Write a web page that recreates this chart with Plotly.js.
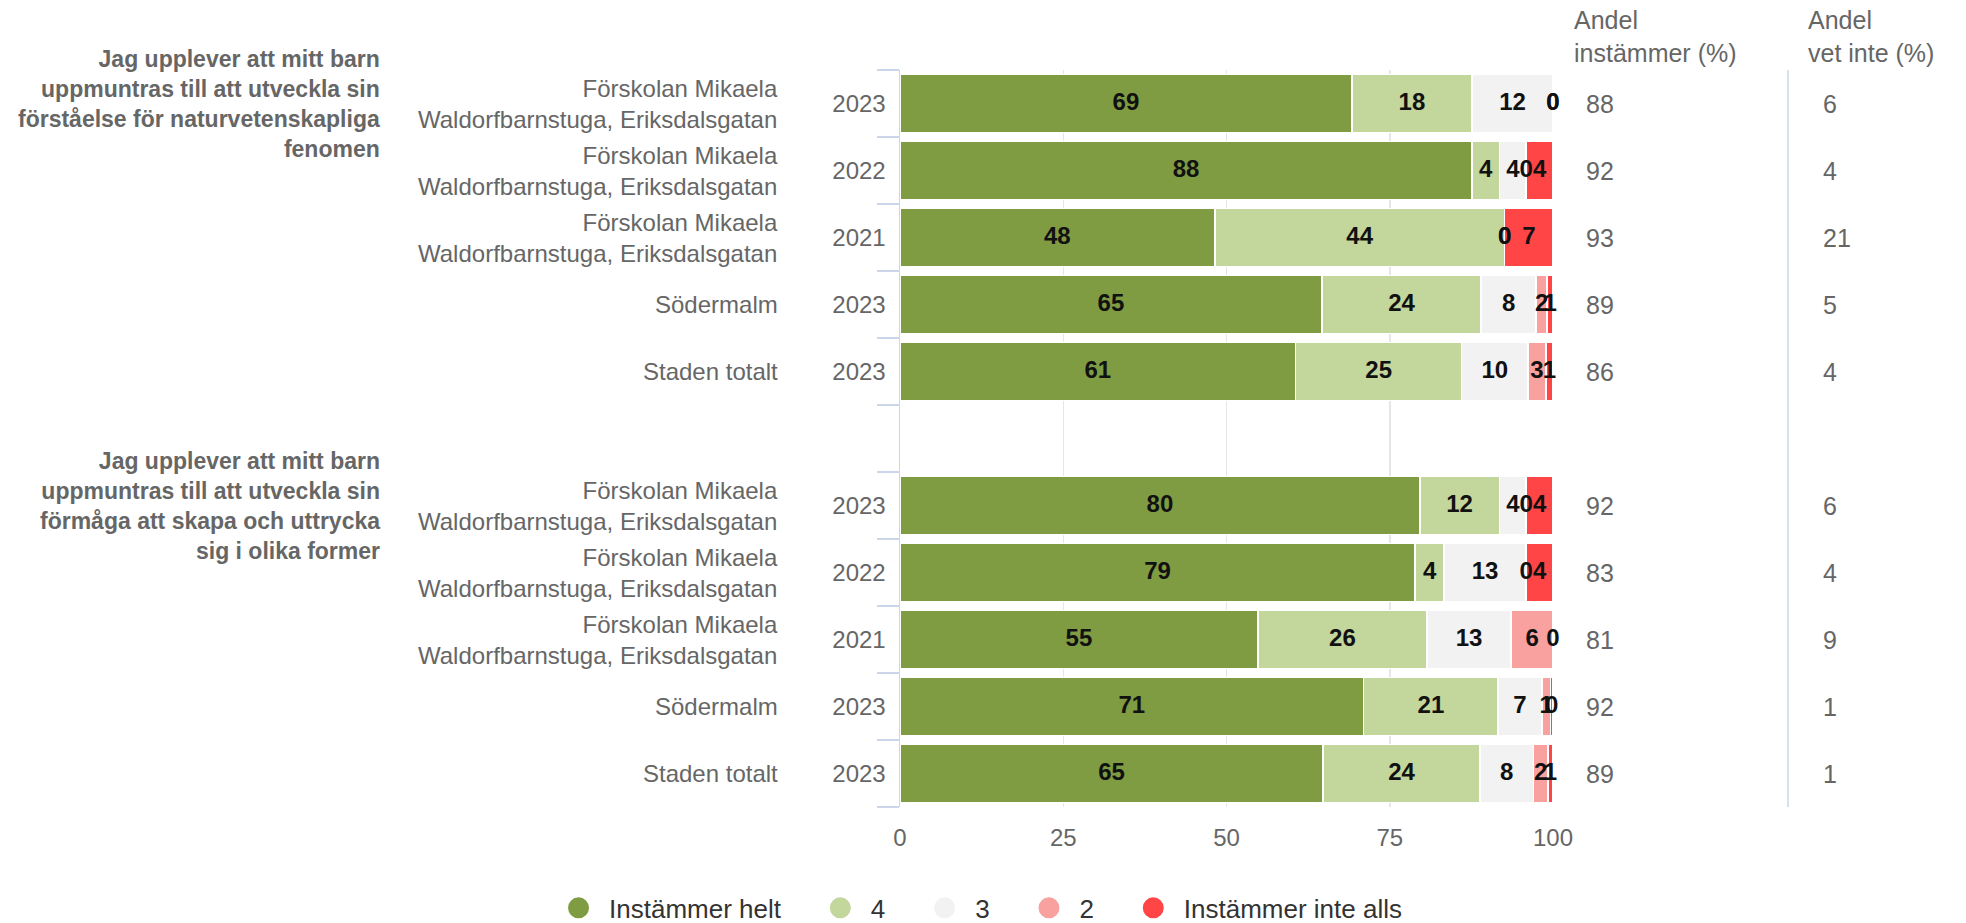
<!DOCTYPE html>
<html>
<head>
<meta charset="utf-8">
<script src="https://cdn.plot.ly/plotly-3.0.1.min.js"></script>
<style>html,body{margin:0;padding:0;background:#fff;}#chart{width:1966px;height:923px;}</style>
</head>
<body>
<div id="chart"></div>
<script>
// ---------- DATA ----------
const rowIds = ['q1r1','q1r2','q1r3','q1r4','q1r5','gap','q2r1','q2r2','q2r3','q2r4','q2r5'];
const rowUnits = [
  'Förskolan Mikaela<br>Waldorfbarnstuga, Eriksdalsgatan',
  'Förskolan Mikaela<br>Waldorfbarnstuga, Eriksdalsgatan',
  'Förskolan Mikaela<br>Waldorfbarnstuga, Eriksdalsgatan',
  'Södermalm',
  'Staden totalt',
  '',
  'Förskolan Mikaela<br>Waldorfbarnstuga, Eriksdalsgatan',
  'Förskolan Mikaela<br>Waldorfbarnstuga, Eriksdalsgatan',
  'Förskolan Mikaela<br>Waldorfbarnstuga, Eriksdalsgatan',
  'Södermalm',
  'Staden totalt'
];
const rowYears = ['2023','2022','2021','2023','2023','','2023','2022','2021','2023','2023'];
const questions = [
  'Jag upplever att mitt barn<br>uppmuntras till att utveckla sin<br>förståelse för naturvetenskapliga<br>fenomen',
  'Jag upplever att mitt barn<br>uppmuntras till att utveckla sin<br>förmåga att skapa och uttrycka<br>sig i olika former'
];
const questionRows = ['q1r1','q2r1'];

const seriesNames = ['Instämmer helt','4','3','2','Instämmer inte alls'];
const instammerHelt = [69.2, 87.6, 48.2, 64.6, 60.6, null, 79.6, 78.9, 54.8, 71.0, 64.8];
const value4        = [18.4,  4.2, 44.4, 24.4, 25.4, null, 12.2,  4.4, 25.9, 20.6, 24.0];
const value3        = [12.4,  4.1,  0.0,  8.4, 10.2, null,  4.1, 12.6, 12.9,  6.7,  8.2];
const value2        = [ 0.0,  0.0,  0.0,  1.7,  2.7, null,  0.0,  0.0,  6.4,  1.3,  2.2];
const instammerInte = [ 0.0,  4.1,  7.4,  0.9,  1.1, null,  4.1,  4.1,  0.0,  0.4,  0.8];

const andelInstammer = [88, 92, 93, 89, 86, null, 92, 83, 81, 92, 89];
const andelVetInte   = [ 6,  4, 21,  5,  4, null,  6,  4,  9,  1,  1];

const xTicks = [0, 25, 50, 75, 100];
const headerInstammer = 'Andel<br>instämmer (%)';
const headerVetInte = 'Andel<br>vet inte (%)';

// ---------- STYLE ----------
const colors = ['#7f9c42', '#c3d69b', '#f2f2f2', '#f9a19f', '#ff4545'];
const FONT = '"Liberation Sans", Arial, Helvetica, sans-serif';
const seriesValues = [instammerHelt, value4, value3, value2, instammerInte];
const LEGEND_PAD = '\u00a0\u00a0\u00a0\u200a'; // spacing between legend entries

const traces = [];
// bars
seriesValues.forEach((vals, k) => {
  traces.push({
    type: 'bar', orientation: 'h', x: vals, y: rowIds,
    marker: {color: colors[k], line: {color: '#ffffff', width: 1.5}},
    showlegend: false, hoverinfo: 'skip'
  });
});
// data labels (centered in each stacked segment)
const cum = rowIds.map(() => 0);
seriesValues.forEach((vals, k) => {
  const xs = [], ys = [], ts = [];
  vals.forEach((v, i) => {
    if (v === null) return;
    xs.push(cum[i] + v / 2);
    ys.push(rowIds[i]);
    ts.push(String(Math.round(v)));
    cum[i] += v;
  });
  traces.push({
    type: 'scatter', mode: 'text', x: xs, y: ys, text: ts,
    textposition: 'middle center',
    textfont: {family: FONT, size: 24, color: '#111111', weight: 700},
    showlegend: false, hoverinfo: 'skip', cliponaxis: false
  });
});
// legend entries (circle symbols)
seriesNames.forEach((name, k) => {
  traces.push({
    type: 'scatter', mode: 'markers', x: [null], y: [null],
    name: name + (k < seriesNames.length - 1 ? LEGEND_PAD : ''),
    marker: {symbol: 'circle', size: 22, color: colors[k], line: {color: colors[k], width: 6}},
    showlegend: true, hoverinfo: 'skip'
  });
});

const annotations = [];
rowIds.forEach((id, i) => {
  if (rowUnits[i]) {
    annotations.push({xref: 'paper', yref: 'y', x: -0.1838, y: id, text: rowUnits[i],
      showarrow: false, xanchor: 'right', align: 'right', yanchor: 'middle',
      font: {family: FONT, size: 24, color: '#666666'}});
  }
  if (andelInstammer[i] !== null) {
    annotations.push({xref: 'paper', yref: 'y', x: 1.0475, y: id, text: String(andelInstammer[i]),
      showarrow: false, xanchor: 'left', align: 'left',
      font: {family: FONT, size: 25, color: '#666666'}});
  }
  if (andelVetInte[i] !== null) {
    annotations.push({xref: 'paper', yref: 'y', x: 1.4104, y: id, text: String(andelVetInte[i]),
      showarrow: false, xanchor: 'left', align: 'left',
      font: {family: FONT, size: 25, color: '#666666'}});
  }
});
questions.forEach((q, j) => {
  annotations.push({xref: 'paper', yref: 'y', x: -0.7933, y: questionRows[j], text: q,
    showarrow: false, xanchor: 'right', align: 'right', yanchor: 'middle',
    font: {family: FONT, size: 23, color: '#666666', weight: 700}});
});
annotations.push({xref: 'paper', yref: 'paper', x: 1.029, y: 1.046, text: headerInstammer,
  showarrow: false, xanchor: 'left', align: 'left', yanchor: 'middle',
  font: {family: FONT, size: 25, color: '#666666'}});
annotations.push({xref: 'paper', yref: 'paper', x: 1.3874, y: 1.046, text: headerVetInte,
  showarrow: false, xanchor: 'left', align: 'left', yanchor: 'middle',
  font: {family: FONT, size: 25, color: '#666666'}});

const layout = {
  width: 1966, height: 923,
  margin: {l: 900, r: 413, t: 70, b: 116, pad: 0, autoexpand: false},
  paper_bgcolor: '#ffffff', plot_bgcolor: '#ffffff',
  barmode: 'stack', bargap: 0.14,
  font: {family: FONT, color: '#666666'},
  showlegend: true,
  legend: {orientation: 'h', x: -0.539, xanchor: 'left',
    y: -0.137, yanchor: 'middle',
    font: {family: FONT, size: 26, color: '#333333'}, itemwidth: 51, traceorder: 'normal'},
  xaxis: {range: [0, 100], tickmode: 'array', tickvals: xTicks, ticktext: xTicks.map(String),
    showgrid: true, gridcolor: '#e6e6e6', gridwidth: 1.5, zeroline: false, showline: false,
    ticks: '', ticklabelstandoff: 14, tickfont: {family: FONT, size: 24, color: '#666666'}, fixedrange: true},
  yaxis: {type: 'category', categoryorder: 'array', categoryarray: rowIds,
    range: [rowIds.length - 0.5, -0.5], tickmode: 'array', tickvals: rowIds, ticktext: rowYears,
    tickson: 'boundaries', ticks: 'outside', ticklen: 22, tickwidth: 2, tickcolor: '#ccd6eb',
    showline: true, linecolor: '#ccd6eb', linewidth: 1.5, showgrid: false, zeroline: false,
    ticklabelstandoff: 8, tickfont: {family: FONT, size: 24, color: '#666666'}, fixedrange: true},
  annotations: annotations,
  shapes: [{type: 'line', xref: 'paper', yref: 'paper', x0: 1.3599, x1: 1.3599, y0: 0, y1: 1,
    line: {color: '#ccd6eb', width: 1.5}}]
};

Plotly.newPlot('chart', traces, layout, {displayModeBar: false, staticPlot: true});
</script>
</body>
</html>
